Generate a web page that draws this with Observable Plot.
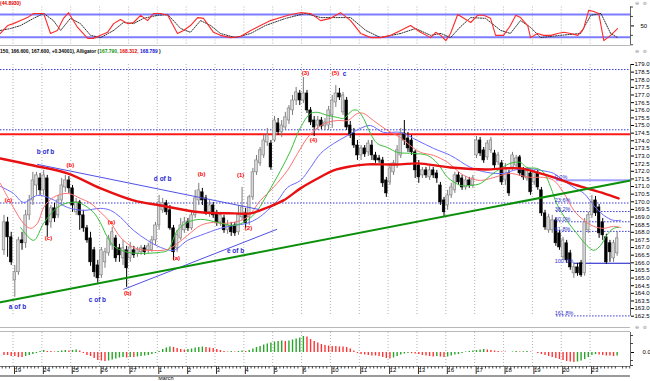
<!DOCTYPE html>
<html><head><meta charset="utf-8">
<script src="https://cdn.jsdelivr.net/npm/d3@7"></script>
<script src="https://cdn.jsdelivr.net/npm/@observablehq/plot@0.6"></script>
<style>
body{margin:0;background:#fff;}
#wrap{position:relative;width:650px;height:381px;overflow:hidden;background:#fff;font-family:"Liberation Sans",Arial,sans-serif;}
.panel{position:absolute;left:0;}
.sep{position:absolute;left:0;width:630px;height:1px;background:#b8b8b8;}
.hdr{position:absolute;left:0;font-weight:bold;font-size:4.9px;white-space:nowrap;color:#000;}
.ico{position:absolute;left:635px;font-size:5px;line-height:6px;color:#888;letter-spacing:1px;font-family:"DejaVu Sans",sans-serif;}
</style></head><body><div id="wrap"></div><script>
// ---------- data ----------
const dayLabels = ["19","24","25","26","27","1","2","3","4","5","6","10","11","12","13","16","17","18","19","20","23"];
const monthLabel = "March", monthDay = 5;
const barsPerDay = 8, firstBar = -3;
const open = [166.82,168.65,167.67,164.85,165.38,167.47,167.28,169.11,170.09,171.07,
171.53,170.75,171.53,168.65,169.57,169.11,170.09,170.94,171.40,170.88,
169.31,169.96,169.11,168.26,167.60,166.82,165.83,165.18,166.03,166.62,
167.14,167.60,166.95,166.29,166.82,166.29,166.82,166.56,166.69,166.95,
166.82,166.82,167.47,168.45,169.44,169.90,169.44,168.26,166.95,167.60,
168.13,168.65,168.26,169.11,170.09,170.62,170.22,169.31,169.76,169.24,
168.65,168.91,168.13,168.39,168.45,168.00,168.98,169.24,168.98,170.29,
171.93,172.52,173.04,173.89,173.82,174.02,175.14,174.55,174.87,175.33,
175.99,176.64,177.10,176.64,177.10,175.99,175.33,175.00,175.33,174.94,
175.00,175.66,176.51,177.10,175.86,176.64,175.00,174.48,173.69,173.04,
173.50,173.24,173.69,173.04,172.84,172.71,171.40,171.27,171.93,172.38,
173.04,174.48,174.15,174.02,173.24,172.38,171.73,172.06,171.60,172.06,
171.86,171.07,170.09,169.76,170.42,170.75,171.73,171.53,170.94,171.40,
171.07,173.04,174.02,173.37,172.91,173.37,173.17,172.58,172.52,171.40,
171.86,172.25,172.38,172.91,172.06,171.53,171.86,171.27,171.86,170.75,
169.24,168.13,168.13,168.78,167.93,166.36,167.28,166.62,165.31,165.70,
165.97,165.31,168.13,169.11,170.09,169.63,168.65,167.67,167.28,166.29,
166.62];
const close = [168.65,167.67,166.03,165.38,167.47,167.28,169.11,170.09,171.40,171.73,
170.75,171.73,168.45,169.57,168.91,170.09,171.07,171.40,170.88,169.76,
169.96,169.11,168.26,167.47,166.03,165.38,164.98,166.82,166.69,167.60,
168.00,166.29,166.49,166.95,165.64,167.01,166.49,166.82,166.95,166.69,
167.08,167.47,168.45,169.96,169.90,169.31,168.26,166.69,167.80,168.45,
168.65,168.26,169.11,170.22,170.75,170.09,169.31,169.76,169.11,168.65,
169.11,168.13,168.45,168.00,167.93,169.11,169.63,168.59,170.29,171.93,
172.71,173.37,174.02,174.35,172.25,175.33,174.55,175.00,175.53,176.12,
176.64,177.17,176.64,177.10,175.99,175.20,174.87,175.33,174.94,175.20,
175.99,176.64,177.10,176.84,176.97,174.87,174.35,173.69,173.04,173.50,
173.11,173.82,173.04,172.71,172.71,171.21,170.55,172.19,172.52,173.37,
174.35,174.02,173.50,173.24,172.06,171.60,172.06,171.73,172.06,171.73,
171.53,169.96,169.31,170.42,170.94,171.73,171.27,170.94,171.40,171.07,
171.53,174.02,173.17,172.71,173.82,174.02,172.38,173.04,171.27,172.19,
170.55,173.04,172.84,171.86,171.60,172.06,170.62,171.93,170.94,169.24,
168.32,168.98,168.78,167.28,167.01,167.47,166.16,165.70,165.70,165.31,
165.18,168.65,169.11,169.96,169.24,167.93,167.80,166.03,166.69,167.28,
167.60];
const high = [169.11,168.98,168.00,165.83,167.67,168.00,169.44,170.42,171.93,171.93,
171.86,172.06,171.73,169.76,169.90,170.42,171.53,171.73,171.66,171.07,
170.22,170.09,169.44,168.45,168.00,167.01,166.16,167.01,166.95,167.80,
168.32,167.80,167.21,167.47,167.08,167.34,167.08,167.01,167.14,167.14,
167.28,167.73,168.65,170.42,170.22,170.09,169.76,168.45,168.13,168.91,
168.98,168.91,169.31,170.75,171.21,170.88,170.42,170.09,169.96,169.44,
169.31,169.11,168.78,168.65,168.65,169.76,170.94,169.57,170.42,172.19,
173.04,173.56,174.35,174.81,174.02,175.59,175.46,175.33,175.86,176.31,
176.97,177.49,177.30,178.15,177.30,176.18,175.59,175.59,175.53,175.46,
176.25,176.97,177.62,177.43,177.17,176.84,175.27,174.81,174.02,173.69,
173.69,174.02,174.02,173.24,173.04,172.91,171.60,172.52,172.71,173.69,
174.81,175.33,174.55,174.35,173.37,172.71,172.25,172.25,172.32,172.25,
172.06,171.27,170.29,170.75,171.21,171.93,171.93,171.73,171.66,171.60,
171.73,174.28,174.22,173.56,174.02,174.22,173.37,173.24,172.71,172.52,
172.06,173.24,173.04,173.04,172.25,172.25,172.06,172.06,172.06,170.94,
169.44,169.18,169.11,168.91,168.13,167.67,167.47,166.82,165.97,165.97,
166.16,168.91,169.31,170.42,170.35,169.83,168.91,167.87,167.47,167.47,
168.00];
const low = [166.49,166.36,165.83,163.74,165.18,166.82,166.95,168.78,169.76,170.42,
170.42,170.42,167.67,168.26,168.65,168.91,169.76,170.62,170.55,169.31,
169.11,168.13,168.00,167.28,165.77,165.05,164.66,164.98,165.64,166.43,
166.82,166.03,166.03,165.83,164.39,166.03,166.29,166.36,166.49,166.49,
166.62,166.69,167.14,168.13,169.24,169.11,168.13,166.16,166.69,167.47,
167.93,168.06,168.13,168.91,169.76,169.76,169.11,168.98,168.91,168.39,
168.39,167.93,167.87,167.73,167.73,167.80,168.78,168.26,168.45,170.09,
171.73,172.32,172.84,173.63,172.06,173.89,174.35,174.22,174.68,175.07,
175.66,176.31,176.31,176.44,175.79,175.00,174.28,174.68,174.74,174.68,
174.68,174.81,176.18,176.64,175.66,174.68,174.15,173.50,172.71,172.71,
172.91,172.97,172.71,172.52,172.52,170.94,170.29,171.07,171.73,172.19,
172.84,173.69,173.24,173.04,171.53,171.21,171.53,171.53,171.40,171.53,
171.21,169.76,168.98,169.44,170.22,170.55,171.07,170.75,170.75,170.88,
170.88,172.84,172.97,172.52,172.71,173.17,172.19,172.38,171.07,171.07,
170.35,172.06,172.19,171.66,171.40,171.34,170.42,171.07,170.75,169.04,
168.13,167.93,167.93,167.08,166.82,166.16,165.97,165.51,164.98,165.12,
165.05,165.12,167.93,168.91,169.04,167.60,167.47,165.90,166.03,166.03,
166.43];
// awesome oscillator histogram (one value per bar)
const ao = [-0.3,-0.3,-0.4,-0.4,-0.5,-0.5,-0.4,-0.3,-0.2,-0.1,
0.1,0.2,0.1,0.1,0.05,0.1,0.15,0.2,0.15,0.2,
0.25,0.15,-0.1,-0.3,-0.4,-0.6,-0.8,-0.85,-0.9,-0.85,
-0.75,-0.65,-0.55,-0.5,-0.55,-0.5,-0.5,-0.45,-0.4,-0.35,
-0.3,-0.2,-0.1,0.1,0.3,0.45,0.55,0.5,0.4,0.3,
0.25,0.3,0.35,0.45,0.5,0.55,0.5,0.45,0.4,0.3,
0.2,0.1,0.05,0.1,0.05,0.1,0.15,0.1,0.2,0.35,
0.5,0.6,0.75,0.85,0.95,1.05,1.1,1.15,1.1,1.15,
1.25,1.35,1.45,1.6,1.55,1.3,1.1,0.95,0.8,0.7,
0.65,0.6,0.6,0.55,0.55,0.5,0.35,0.15,-0.1,-0.2,
-0.25,-0.3,-0.35,-0.35,-0.4,-0.5,-0.6,-0.65,-0.55,-0.4,
-0.25,-0.15,-0.1,-0.12,-0.15,-0.2,-0.3,-0.35,-0.4,-0.45,
-0.4,-0.45,-0.5,-0.45,-0.35,-0.25,-0.2,-0.1,0.05,0.1,
0.15,0.2,0.25,0.3,0.25,0.2,0.15,0.1,0.05,0.05,
0.0,0.05,0.1,0.05,0.08,0.1,0.05,0.0,-0.1,-0.2,
-0.3,-0.4,-0.5,-0.6,-0.7,-0.8,-0.9,-0.95,-1.0,-0.95,
-0.85,-0.7,-0.5,-0.3,-0.2,-0.25,-0.3,-0.35,-0.35,-0.4,
-0.35];
// moving average (thick red)
const maT = [-3.5,5.7,15.1,24.3,33.4,40.9,52.0,61.2,65.9,70.6,75.0,79.7,84.5,88.9,93.6,98.3,102.7,107.4,112.1,121.3,131.3,136.0,140.7,145.2,149.9,154.6,159.1,163.8,167.9];
const maP = [172.84,172.38,171.86,170.88,170.09,169.76,169.31,169.24,169.24,169.63,170.09,170.88,171.53,172.06,172.32,172.45,172.45,172.45,172.52,172.25,172.12,172.19,172.19,171.93,171.60,171.20,170.88,170.55,170.22];
// alligator lips (green)
const lipsT = [2.1,5.7,8.5,12.3,15.9,18.7,22.3,24.3,26.2,28.4,31.8,35.4,40.9,42.9,45.6,48.4,52.0,56.7,61.2,64.9,67.8,70.6,74.2,77.0,79.7,82.5,84.5,87.2,90.0,91.7,94.1,95.5,97.2,99.1,101.0,103.8,106.6,111.0,114.9,117.7,120.5,124.1,126.9,129.6,132.4,135.2,137.9,140.7,142.4,145.2,147.1,149.1,150.7,153.5,156.3,159.1,161.0,162.9,164.6,166.5,167.9];
const lipsP = [168.32,167.47,168.59,169.63,169.96,169.90,169.31,168.59,167.67,167.01,166.69,166.62,166.69,166.82,168.13,168.65,168.85,168.65,168.45,168.78,169.44,170.55,172.06,173.37,174.87,175.79,175.86,175.66,175.53,175.46,175.99,175.99,175.46,174.48,173.82,173.56,173.24,173.17,173.04,172.52,171.60,171.07,171.07,171.20,171.73,172.19,172.52,172.58,172.25,172.19,171.93,170.94,169.90,168.78,167.93,167.14,166.82,167.14,167.80,168.26,168.32];
// alligator teeth (red)
const teethT = [-3.5,0.1,2.9,4.9,6.8,8.5,11.2,15.1,18.7,21.5,24.3,27.0,29.8,33.4,37.3,42.9,45.6,48.4,52.0,55.6,57.5,61.2,64.9,68.6,72.2,76.1,78.9,81.7,84.5,87.2,90.0,92.8,95.5,97.2,99.9,103.8,107.4,110.1,113.0,116.6,120.5,124.1,126.9,129.6,132.4,135.2,137.9,140.7,143.5,147.1,149.9,152.6,155.5,158.3,161.0,163.8,166.5,168.5];
const teethP = [171.21,169.63,168.59,168.26,168.59,169.63,170.29,170.55,170.22,169.90,169.31,168.65,167.67,167.01,166.82,166.88,167.27,167.80,168.45,168.65,168.59,168.65,168.98,170.09,170.94,172.06,173.17,174.22,174.87,175.20,175.33,175.33,175.79,175.79,175.33,174.68,174.22,173.69,173.24,173.04,172.58,171.86,171.53,171.40,171.53,171.73,171.86,171.73,171.60,171.60,171.40,170.62,169.44,168.78,168.39,168.26,168.39,168.31];
// alligator jaw (blue)
const jawT = [-3.5,0.1,2.9,6.8,10.4,15.1,19.6,24.3,27.0,29.8,33.4,37.3,40.9,44.5,48.4,52.0,57.5,61.2,64.9,67.8,70.6,73.4,76.1,79.7,82.5,85.3,88.9,92.8,96.3,99.1,102.7,107.4,112.1,116.6,121.3,126.9,131.3,136.0,138.8,142.4,146.3,149.9,152.6,155.5,158.3,161.0,163.8,166.5,168.5];
const jawP = [171.01,170.55,169.96,170.42,170.22,169.63,169.44,169.57,169.44,168.98,168.13,167.47,167.01,166.82,167.47,167.80,168.26,168.45,168.59,168.91,169.44,170.09,170.94,171.40,172.25,173.17,173.82,174.35,174.81,175.00,174.55,174.55,174.02,173.50,173.04,172.25,171.93,171.86,172.06,172.19,172.06,171.86,171.40,170.94,170.55,169.76,169.11,168.78,168.79];
// trendlines
const greenTrendT = [-3.47, 171.2], greenTrendP = [163.41, 171.40];
const upperTrendT = [6.8, 68.1], upperTrendP = [172.45, 169.50];
const lowerTrendT = [30.7, 73.1], lowerTrendP = [164.26, 168.19];
// horizontal levels
const dottedLevels = [178.67, 174.72];
const redLevels = [174.42];
// fibonacci
const fibLabels = ["0.0%","23.6%","38.2%","50.0%","61.8%","100.0%","161.8%"];
const fibPrices = [171.42, 169.92, 169.36, 168.69, 168.06, 165.97, 162.52];
const fibFrom = [150.7, -3.47, 150.7, 150.7, 150.7, 155.5, 150.7];
const fibLabelAt = 150.2;
// wave labels
const redText = ["(c)","(c)","(b)","(a)","(b)","(a)","(b)","(1)","(2)","(3)","(4)","(5)"];
const redT = [-1.25, 9.85, 15.9, 27.3, 31.8, 45.3, 52.3, 63.1, 65.3, 81.1, 83.3, 89.4];
const redP = [170.09, 167.60, 172.38, 168.65, 164.00, 166.29, 171.80, 171.73, 168.26, 178.41, 174.02, 178.41];
const blueText = ["b of b","d of b","e of b","c of b","a of b","c"];
const blueT = [9.0, 41.5, 61.7, 23.4, 1.25, 91.9];
const blueP = [173.24, 171.53, 166.75, 163.54, 163.08, 178.41];
// stochastic
const kT = [-3.5,-1.5,0.1,2.1,4.0,5.7,8.5,10.4,12.3,14.0,15.4,17.9,20.7,22.3,24.3,26.2,27.9,29.8,31.8,33.4,35.4,37.3,39.0,40.9,42.9,45.6,47.3,49.2,51.2,52.8,55.6,57.5,60.3,63.1,65.9,68.6,71.4,74.2,77.0,79.7,82.5,85.3,88.0,90.8,93.6,96.4,99.2,101.9,104.7,107.5,110.2,113.0,115.8,117.2,118.6,120.0,121.3,123.3,125.0,126.9,128.8,130.5,132.4,133.8,136.0,137.9,139.4,140.7,142.7,143.5,145.4,147.1,149.1,151.0,152.7,154.6,156.6,158.2,159.6,161.0,162.4,163.8,165.7,167.6];
const kV = [30,51,56,64,72,83,83,30,38,70,85,46,17,17,25,33,56,67,56,59,78,64,83,83,78,30,38,51,72,70,33,25,19,22,38,51,64,72,80,85,83,64,70,85,64,30,19,19,25,38,51,33,19,33,25,11,30,80,70,59,78,78,70,25,25,51,78,72,51,19,30,25,25,30,33,30,25,43,91,88,83,11,25,43];
const dT = [-3.5,-0.7,2.1,5.7,8.5,11.2,13.2,15.9,18.7,21.5,24.3,27.9,30.6,33.4,36.2,40.1,42.9,46.5,49.2,52.0,54.8,57.5,61.7,65.9,70.0,75.6,81.1,85.3,89.4,93.6,97.8,101.9,107.5,111.6,115.8,118.6,121.3,124.1,126.9,131.0,135.2,137.9,140.7,143.5,146.3,151.8,157.4,160.2,163.0,165.7,167.6];
const dV = [38,43,51,70,83,64,38,70,56,25,19,38,59,56,70,78,80,43,33,64,51,30,19,30,51,70,83,72,72,72,38,19,30,43,25,30,19,48,72,70,38,30,64,46,19,25,30,78,83,30,19];
const stochLevels = [80, 20];
const stochTicks = [0, 25, 75, 100];
const aoTicks = [-1.3, -0.8, 0.9, 1.7];
const stochValue = "(44.8930)";
const headerText = "150, 166.600, 167.600, +0.34001), Alligator (";
const alligatorNow = ["167.790,", "168.312,", "168.789"];

// ---------- build ----------
const zip = (T, V) => T.map((t, i) => ({t, v: V[i]}));
const candles = open.map((o, i) => ({t: firstBar + i + 0.5, o, c: close[i], h: high[i], l: low[i], up: close[i] >= o}));
const aoData = ao.map((v, i) => ({t: firstBar + i + 0.5, v, up: i > 0 && v > ao[i - 1]}));
const dayT = dayLabels.map((d, k) => k * barsPerDay);
const minorT = d3.range(firstBar, 172).filter(t => t % barsPerDay !== 0);
const xDomain = [-3.47, 171.2];
const xMax = xDomain[1];
const tickLen = 0.83; // 3px in bar units
const baseStyle = {fontFamily: "Liberation Sans, Arial, sans-serif", fontSize: "6px", background: "transparent", overflow: "visible"};
const common = {width: 650, marginLeft: 0, marginRight: 20, style: baseStyle};
const grid = () => Plot.ruleX(dayT, {stroke: "#b4b4b4", strokeDasharray: "1,2"});

const wrap = document.getElementById("wrap");
function place(svg, top) { const d = document.createElement("div"); d.className = "panel"; d.style.top = top + "px"; d.appendChild(svg); wrap.appendChild(d); }

// stochastic panel
const stoch = Plot.plot({
  ...common, height: 46, marginTop: 6.5, marginBottom: 1.7,
  x: {domain: xDomain, axis: null, label: null},
  y: {domain: [0, 100], label: null},
  marks: [
    grid(),
    Plot.ruleY(stochLevels, {stroke: "#7c7cff", strokeWidth: 2}),
    Plot.line(zip(dT, dV), {x: "t", y: "v", stroke: "#333", strokeWidth: 1, strokeDasharray: "1.2,1.3"}),
    Plot.line(zip(kT, kV), {x: "t", y: "v", stroke: "#ff2a2a", strokeWidth: 1.1}),
    Plot.ruleX([xMax], {stroke: "#666"}),
    Plot.ruleY(stochTicks, {x1: xMax, x2: xMax + tickLen, stroke: "#444"}),
    Plot.axisY({anchor: "right", label: null, ticks: [50], tickSize: 3, tickPadding: 7, fontSize: 6})
  ]
});
place(stoch, 0);

// main price panel
const mainPlot = Plot.plot({
  ...common, height: 280, marginTop: 17, marginBottom: 11.3,
  x: {domain: xDomain, axis: null, label: null},
  y: {domain: [162.5, 179], label: null},
  marks: [
    grid(),
    Plot.ruleY(dottedLevels, {stroke: "#3a3ad0", strokeDasharray: "1.5,1.5"}),
    Plot.ruleY(redLevels, {stroke: "#ff1a1a", strokeWidth: 2}),
    Plot.ruleY(fibPrices.map((p, i) => ({p, from: fibFrom[i], i})).filter(d => d.i !== 0 && d.i !== 5), {y: "p", x1: "from", x2: xMax, stroke: "#3a3ad0", strokeDasharray: "1.5,1.5"}),
    Plot.ruleY([{p: fibPrices[0], from: fibFrom[0]}], {y: "p", x1: "from", x2: xMax, stroke: "#a0a0ff", strokeWidth: 2}),
    Plot.ruleY([{p: fibPrices[5], from: fibFrom[5]}], {y: "p", x1: "from", x2: xMax, stroke: "#1515c8", strokeWidth: 1.2}),
    Plot.ruleX(candles, {x: "t", y1: "l", y2: "h", stroke: d => d.up ? "#7a7a7a" : "#000", strokeWidth: 1}),
    Plot.rect(candles, {x1: d => d.t - 0.36, x2: d => d.t + 0.36, y1: "o", y2: "c", fill: d => d.up ? "#d6d6d6" : "#000", stroke: d => d.up ? "#7a7a7a" : "#000", strokeWidth: 0.6}),
    Plot.line(zip(jawT, jawP), {x: "t", y: "v", stroke: "#6a6aff", strokeWidth: 1, curve: "catmull-rom"}),
    Plot.line(zip(teethT, teethP), {x: "t", y: "v", stroke: "#ff7070", strokeWidth: 1, curve: "catmull-rom"}),
    Plot.line(zip(lipsT, lipsP), {x: "t", y: "v", stroke: "#3cbf3c", strokeWidth: 1, curve: "catmull-rom"}),
    Plot.line(zip(maT, maP), {x: "t", y: "v", stroke: "#e81010", strokeWidth: 2.4, curve: "catmull-rom"}),
    Plot.line(zip(upperTrendT, upperTrendP), {x: "t", y: "v", stroke: "#5050e8", strokeWidth: 1}),
    Plot.line(zip(lowerTrendT, lowerTrendP), {x: "t", y: "v", stroke: "#5050e8", strokeWidth: 1}),
    Plot.line(zip(greenTrendT, greenTrendP), {x: "t", y: "v", stroke: "#0b900b", strokeWidth: 2}),
    Plot.text(fibLabels, {x: fibLabelAt, y: (d, i) => fibPrices[i], text: d => d, textAnchor: "start", dy: -2.5, fill: "#3030c8", fontSize: 5.5}),
    Plot.text(redText, {x: (d, i) => redT[i], y: (d, i) => redP[i], text: d => d, fill: "#ff0000", fontSize: 6, fontWeight: "bold"}),
    Plot.text(blueText, {x: (d, i) => blueT[i], y: (d, i) => blueP[i], text: d => d, fill: "#2a2ad0", fontSize: 6.5, fontWeight: "bold"}),
    Plot.ruleX([xMax], {stroke: "#666"}),
    Plot.axisY({anchor: "right", label: null, ticks: d3.range(162.5, 179.01, 0.5), tickSize: 3, tickPadding: 1, tickFormat: d => d.toFixed(1), fontSize: 6})
  ]
});
place(mainPlot, 47);

// oscillator + date axis panel
const aoPlot = Plot.plot({
  ...common, height: 50, marginTop: 1, marginBottom: 15,
  x: {domain: xDomain, label: null},
  y: {domain: [-1.4, 2.0], label: null},
  marks: [
    grid(),
    Plot.ruleX(aoData, {x: "t", y1: 0, y2: "v", stroke: d => d.up ? "#26a526" : "#ff3434", strokeWidth: 1.4}),
    Plot.ruleX([xMax], {stroke: "#666"}),
    Plot.ruleY([-1.4], {stroke: "#777"}),
    Plot.ruleY(aoTicks, {x1: xMax, x2: xMax + tickLen, stroke: "#444"}),
    Plot.axisY({anchor: "right", label: null, ticks: [0], tickSize: 3, tickPadding: 9, fontSize: 6}),
    Plot.axisX({label: null, ticks: minorT, tickSize: 2.5, tickFormat: () => "", stroke: "#444"}),
    Plot.axisX({label: null, ticks: dayT, tickSize: 8, tickPadding: -7, textAnchor: "start", dx: 1.5, tickFormat: d => dayLabels[Math.round(d / barsPerDay)], fontSize: 6, stroke: "#333"}),
    Plot.axisX({label: null, ticks: [monthDay * barsPerDay], tickSize: 0, tickPadding: 10, textAnchor: "start", dx: 1, tickFormat: () => monthLabel, fontSize: 5.5})
  ]
});
place(aoPlot, 331);

// separators, scrollbar, headers
[45, 327, 331].forEach(y => { const s = document.createElement("div"); s.className = "sep"; s.style.top = y + "px"; wrap.appendChild(s); });
const bar = document.createElement("div");
bar.style.cssText = "position:absolute;left:0;top:375px;width:630px;height:2px;background:#9a9a9a;";
wrap.appendChild(bar);
const sv = document.createElement("div"); sv.className = "hdr"; sv.style.top = "1px"; sv.style.color = "#e00000"; sv.textContent = stochValue; wrap.appendChild(sv);
const hd = document.createElement("div"); hd.className = "hdr"; hd.style.top = "49px";
const colors = ["#109010", "#e00000", "#1010d0"];
hd.appendChild(document.createTextNode(headerText));
alligatorNow.forEach((v, i) => { const s = document.createElement("span"); s.style.color = colors[i]; s.textContent = v + " "; hd.appendChild(s); });
hd.appendChild(document.createTextNode(")"));
wrap.appendChild(hd);
[0, 48, 324].forEach(y => { const ic = document.createElement("div"); ic.className = "ico"; ic.style.top = y + "px"; ic.textContent = "⊖ ⊘"; wrap.appendChild(ic); });
</script></body></html>
